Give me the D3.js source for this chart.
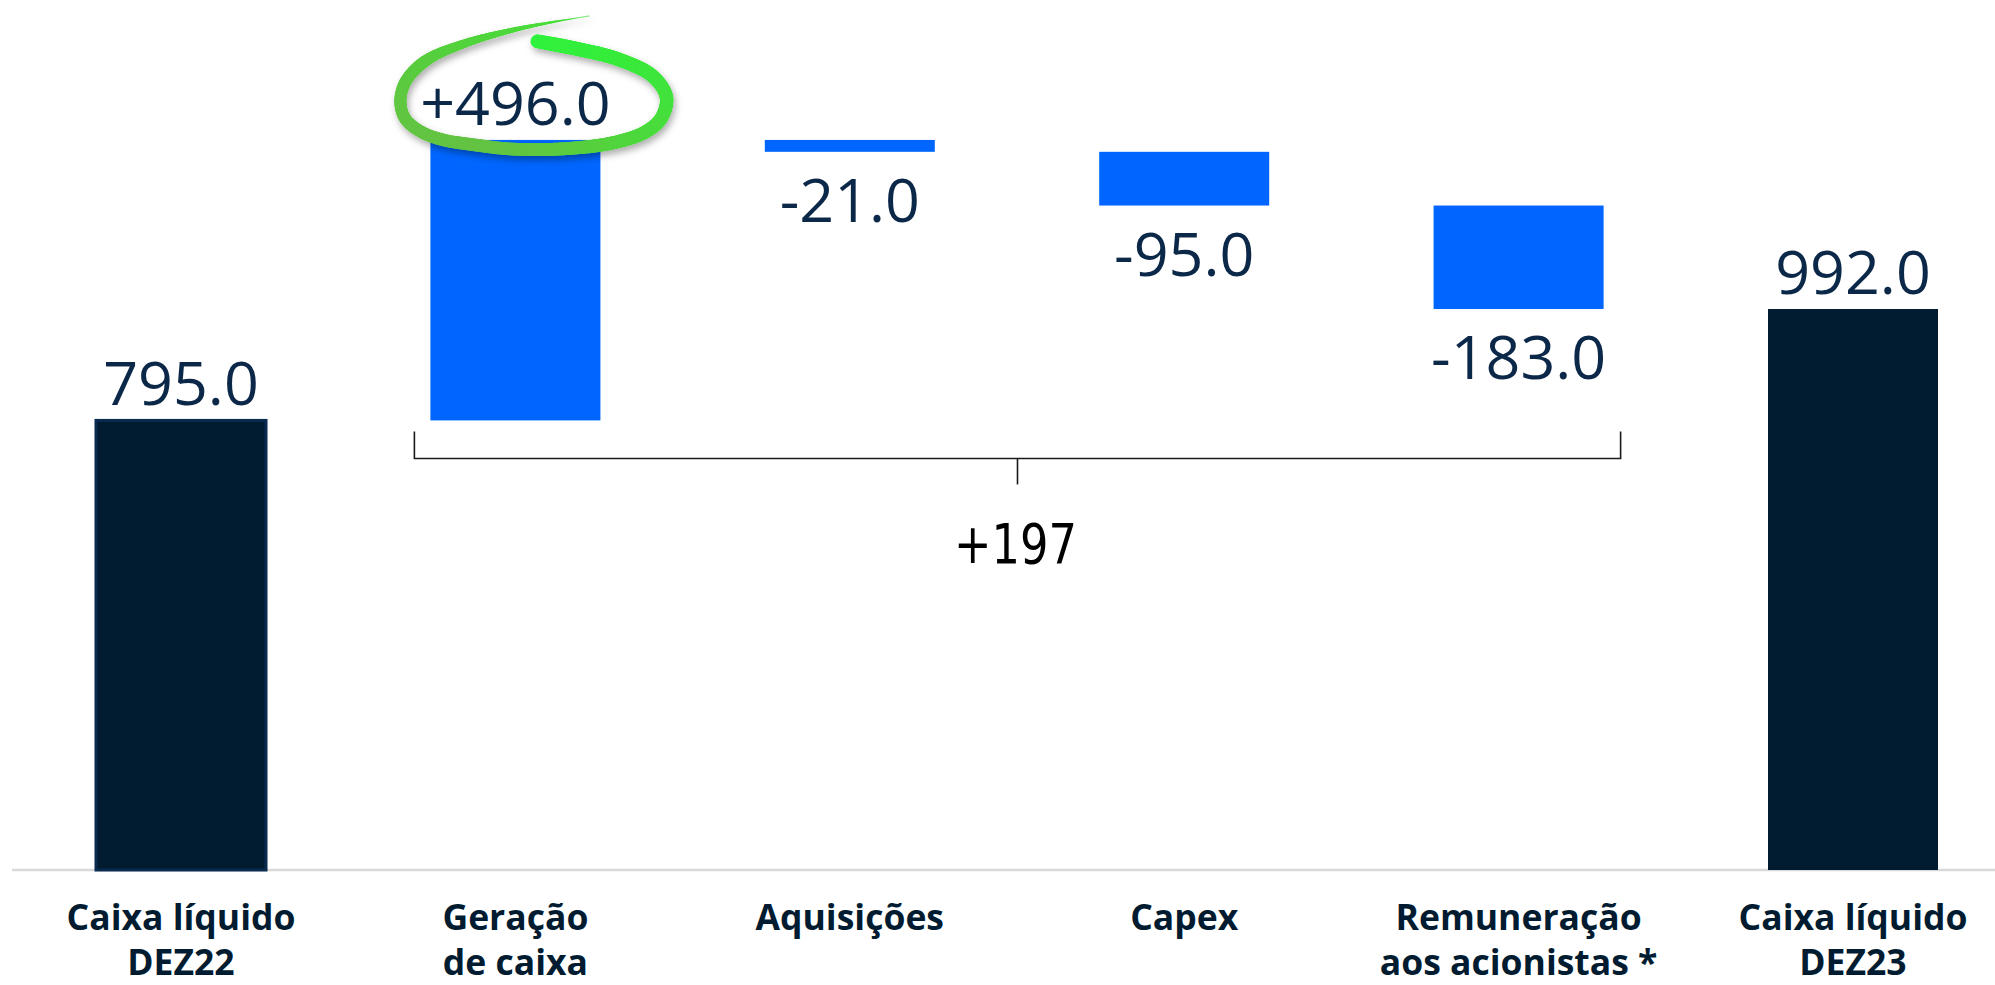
<!DOCTYPE html>
<html>
<head>
<meta charset="utf-8">
<script src="https://cdn.jsdelivr.net/npm/d3@7/dist/d3.min.js"></script>
<style>
  html, body { margin: 0; padding: 0; background: #ffffff; }
  svg { display: block; }
</style>
</head>
<body>
<svg id="chart" width="1995" height="985"></svg>
<script>
// Net cash bridge, DEZ22 -> DEZ23
const categories = [
  ["Caixa líquido", "DEZ22"],
  ["Geração", "de caixa"],
  ["Aquisições"],
  ["Capex"],
  ["Remuneração", "aos acionistas *"],
  ["Caixa líquido", "DEZ23"]
];
const values = [795, 496, -21, -95, -183, 992];
const kinds = ["total", "delta", "delta", "delta", "delta", "total"];
const highlighted = [1];   // index of the change circled in green

const W = 1995, H = 985;
const svg = d3.select("#chart");

svg.append("rect").attr("width", W).attr("height", H).attr("fill", "#ffffff");

// Build waterfall segments (start / end of each bar)
let running = 0;
const bars = values.map((v, i) => {
  let start, end;
  if (kinds[i] === "total") { start = 0; end = v; running = v; }
  else { start = running; end = running + v; running = end; }
  return { i, v, kind: kinds[i], start, end, lo: Math.min(start, end), hi: Math.max(start, end) };
});
const netChange = d3.sum(bars.filter(b => b.kind === "delta"), b => b.v);

const x = d3.scaleBand()
  .domain(d3.range(categories.length))
  .range([13.8, 2020.2])
  .paddingInner(0.4916)
  .paddingOuter(0.2458);
const y = d3.scaleLinear().domain([0, 1000]).range([870, 304.5]);
const bw = x.bandwidth();

const fmt = b => b.kind === "total"
  ? b.v.toFixed(1)
  : (b.v > 0 ? "+" : "-") + Math.abs(b.v).toFixed(1);

// Axis baseline
svg.append("line")
  .attr("x1", 12).attr("x2", W)
  .attr("y1", y(0)).attr("y2", y(0))
  .attr("stroke", "#d9d9d9").attr("stroke-width", 2.5);

// Bars
svg.append("g").selectAll("rect")
  .data(bars)
  .join("rect")
  .attr("x", d => x(d.i))
  .attr("width", bw)
  .attr("y", d => y(d.hi))
  .attr("height", d => y(d.lo) - y(d.hi))
  .attr("fill", d => d.kind === "total" ? "#011c31" : "#0066ff")
  .attr("stroke", d => d.i === 0 ? "#0b2a4f" : "none")
  .attr("stroke-width", 3);

// Value labels
const valueFont = "'Open Sans', 'Noto Sans', sans-serif";
svg.append("g").selectAll("text")
  .data(bars)
  .join("text")
  .attr("x", d => x(d.i) + bw / 2)
  .attr("y", d => (d.kind === "total" || d.v > 0) ? y(d.hi) - 15 : y(d.lo) + 70)
  .attr("text-anchor", "middle")
  .attr("font-family", valueFont)
  .attr("font-size", 61)
  .attr("fill", "#0c2849")
  .text(fmt);

// Category labels
const catG = svg.append("g");
categories.forEach((lines, i) => {
  const t = catG.append("text")
    .attr("x", x(i) + bw / 2)
    .attr("y", 930)
    .attr("text-anchor", "middle")
    .attr("font-family", valueFont)
    .attr("font-weight", 700)
    .attr("font-size", 35.5)
    .attr("fill", "#011b30");
  lines.forEach((s, k) => {
    t.append("tspan").attr("x", x(i) + bw / 2).attr("dy", k === 0 ? 0 : 45).text(s);
  });
});

// Bracket summing the changes
const deltas = bars.filter(b => b.kind === "delta");
const bx0 = x(deltas[0].i) - 16;
const bx1 = x(deltas[deltas.length - 1].i) + bw + 17;
const bmid = (bx0 + bx1) / 2;
const by = y(values[0]) + 38;
const br = svg.append("g").attr("stroke", "#1a1a1a").attr("stroke-width", 1.6).attr("fill", "none");
br.append("path").attr("d", `M${bx0},${by - 27}V${by}H${bx1}V${by - 27}`);
br.append("line").attr("x1", bmid).attr("x2", bmid).attr("y1", by).attr("y2", by + 26);
svg.append("text")
  .attr("x", bmid - 2)
  .attr("y", by + 105)
  .attr("text-anchor", "middle")
  .attr("font-family", "'DejaVu Sans', sans-serif")
  .attr("font-size", 55)
  .attr("textLength", 123)
  .attr("lengthAdjust", "spacingAndGlyphs")
  .attr("fill", "#000000")
  .text((netChange > 0 ? "+" : "") + netChange);

// Hand-drawn green highlight around the circled label
const defs = svg.append("defs");
const shadow = defs.append("filter").attr("id", "brushShadow")
  .attr("x", "-20%").attr("y", "-30%").attr("width", "140%").attr("height", "160%");
shadow.append("feDropShadow")
  .attr("dx", 2).attr("dy", 4).attr("stdDeviation", 3.5)
  .attr("flood-color", "#000").attr("flood-opacity", 0.32);

// stroke path, relative to the label anchor (centre, baseline)
const brushPath = [
  [20, -84], [62, -76], [102, -66], [137, -49], [151, -28], [146, -7], [130, 7],
  [97, 18], [45, 24], [-5, 24], [-40, 20], [-72, 15], [-94, 7], [-110, -6],
  [-115, -23], [-110, -43], [-90, -64], [-52, -81], [-2, -95], [38, -103], [74, -109]
];
const brushColor = d3.interpolateRgbBasis(["#2ff23b", "#38ea3a", "#52d43c", "#66c144", "#62c442", "#4fd63a", "#44df3a"]);

highlighted.forEach(hi => {
  const b = bars[hi];
  const ax = x(b.i) + bw / 2;
  const ay = y(b.hi) - 15;
  const g = svg.append("g").attr("filter", "url(#brushShadow)");
  const guide = g.append("path")
    .attr("d", d3.line().curve(d3.curveCatmullRom.alpha(0.5))(brushPath.map(p => [ax + p[0], ay + p[1]])))
    .attr("fill", "none").attr("stroke", "none");
  const node = guide.node();
  const L = node.getTotalLength();
  const N = 360;
  const pts = d3.range(N + 1).map(k => node.getPointAtLength(L * k / N));
  const width = t => {
    if (t < 0.03) return 13.5 + t * 20;
    if (t < 0.74) return 14 - (t - 0.03) * 3;
    const u = (t - 0.74) / 0.26;
    return Math.max(0.6, 11.9 * Math.pow(1 - u, 1.1));
  };
  for (let k = 0; k < N; k++) {
    const t = k / N;
    g.append("line")
      .attr("x1", pts[k].x).attr("y1", pts[k].y)
      .attr("x2", pts[k + 1].x).attr("y2", pts[k + 1].y)
      .attr("stroke", brushColor(t))
      .attr("stroke-width", width(t))
      .attr("stroke-linecap", k === 0 ? "butt" : "round");
  }
});
</script>
</body>
</html>
